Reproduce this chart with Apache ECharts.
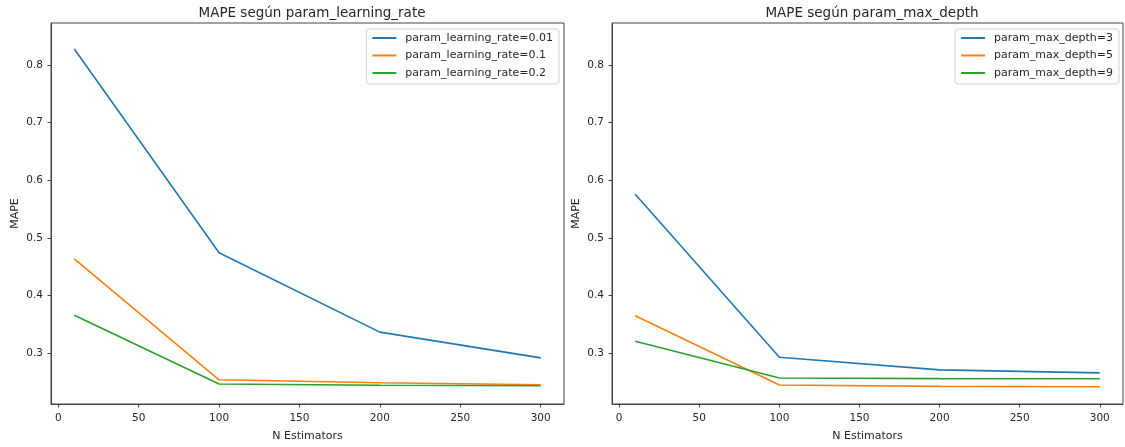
<!DOCTYPE html>
<html>
<head>
<meta charset="utf-8">
<script src="https://cdn.jsdelivr.net/npm/echarts@6.0.0/dist/echarts.min.js"></script>
<style>
  html, body { margin: 0; padding: 0; background: #fff; }
  #chart { width: 1125px; height: 447px; }
</style>
</head>
<body>
<div id="chart"></div>
<script>
// N estimators (x values)
const nEstimators = [10, 100, 200, 300];
const xTicks = [0, 50, 100, 150, 200, 250, 300];
const yTicks = [0.3, 0.4, 0.5, 0.6, 0.7, 0.8];

// left panel: learning rate
const lrNames = ['param_learning_rate=0.01', 'param_learning_rate=0.1', 'param_learning_rate=0.2'];
const lr001 = [0.828, 0.4745, 0.3367, 0.292];
const lr01 = [0.4636, 0.254, 0.2488, 0.2454];
const lr02 = [0.366, 0.2466, 0.2445, 0.2437];

// right panel: max depth
const depthNames = ['param_max_depth=3', 'param_max_depth=5', 'param_max_depth=9'];
const depth3 = [0.576, 0.293, 0.2712, 0.266];
const depth5 = [0.365, 0.245, 0.2425, 0.242];
const depth9 = [0.321, 0.257, 0.256, 0.2557];

const colors = ['#1f77b4', '#ff7f0e', '#2ca02c'];
const font = 'DejaVu Sans';
const textColor = '#262626';
const frameColor = '#444';

const pairs = (ys) => nEstimators.map((x, i) => [x, ys[i]]);

function makeSeries(names, values, idx) {
  return names.map((name, i) => ({
    name: name,
    type: 'line',
    xAxisIndex: idx,
    yAxisIndex: idx,
    data: pairs(values[i]),
    symbol: 'none',
    legendIcon: 'rect',
    lineStyle: { color: colors[i], width: 1.6 },
    itemStyle: { color: colors[i] },
    silent: true
  }));
}

function xAxisOf(idx) {
  return {
    gridIndex: idx,
    type: 'value',
    min: -4.5,
    max: 314.5,
    name: 'N Estimators',
    nameLocation: 'middle',
    nameGap: 27,
    nameTextStyle: { fontFamily: font, fontSize: 11, color: textColor },
    splitLine: { show: false },
    axisLine: { show: true, onZero: false, lineStyle: { color: frameColor } },
    axisTick: { show: true, length: 3.5, customValues: xTicks, lineStyle: { color: frameColor } },
    axisLabel: { customValues: xTicks, margin: 9, fontFamily: font, fontSize: 10.5, color: textColor }
  };
}

function yAxisOf(idx) {
  return {
    gridIndex: idx,
    type: 'value',
    min: 0.212,
    max: 0.873,
    name: 'MAPE',
    nameLocation: 'middle',
    nameGap: 30,
    nameRotate: 90,
    nameTextStyle: { fontFamily: font, fontSize: 11, color: textColor },
    splitLine: { show: false },
    axisLine: { show: true, onZero: false, lineStyle: { color: frameColor } },
    axisTick: { show: true, length: 3.5, customValues: yTicks, lineStyle: { color: frameColor } },
    axisLabel: {
      customValues: yTicks, margin: 8, fontFamily: font, fontSize: 10.5, color: textColor,
      formatter: (v) => v.toFixed(1)
    }
  };
}

function legendOf(names, right) {
  return {
    data: names,
    orient: 'vertical',
    right: right,
    top: 29,
    padding: [3, 6, 5, 5],
    itemWidth: 24,
    itemHeight: 2,
    itemGap: 5.5,
    backgroundColor: 'rgba(255,255,255,0.8)',
    borderColor: '#d0d0d0',
    borderWidth: 1,
    borderRadius: 3,
    selectedMode: false,
    textStyle: { fontFamily: font, fontSize: 11, color: textColor, lineHeight: 12, padding: [0, 0, 0, 4] }
  };
}

const chart = echarts.init(document.getElementById('chart'), null, { renderer: 'canvas' });

chart.setOption({
  animation: false,
  backgroundColor: '#fff',
  title: [
    {
      text: 'MAPE según param_learning_rate',
      left: 307, top: 1, textAlign: 'center',
      textStyle: { fontFamily: font, fontSize: 13.5, fontWeight: 'normal', color: textColor }
    },
    {
      text: 'MAPE según param_max_depth',
      left: 867, top: 1, textAlign: 'center',
      textStyle: { fontFamily: font, fontSize: 13.5, fontWeight: 'normal', color: textColor }
    }
  ],
  legend: [legendOf(lrNames, 566), legendOf(depthNames, 6)],
  grid: [
    { left: 51, top: 23, width: 513, height: 384, show: true, borderColor: frameColor, borderWidth: 1, backgroundColor: 'transparent' },
    { left: 612, top: 23, width: 511, height: 384, show: true, borderColor: frameColor, borderWidth: 1, backgroundColor: 'transparent' }
  ],
  xAxis: [xAxisOf(0), xAxisOf(1)],
  yAxis: [yAxisOf(0), yAxisOf(1)],
  series: [
    ...makeSeries(lrNames, [lr001, lr01, lr02], 0),
    ...makeSeries(depthNames, [depth3, depth5, depth9], 1)
  ]
});
</script>
</body>
</html>
